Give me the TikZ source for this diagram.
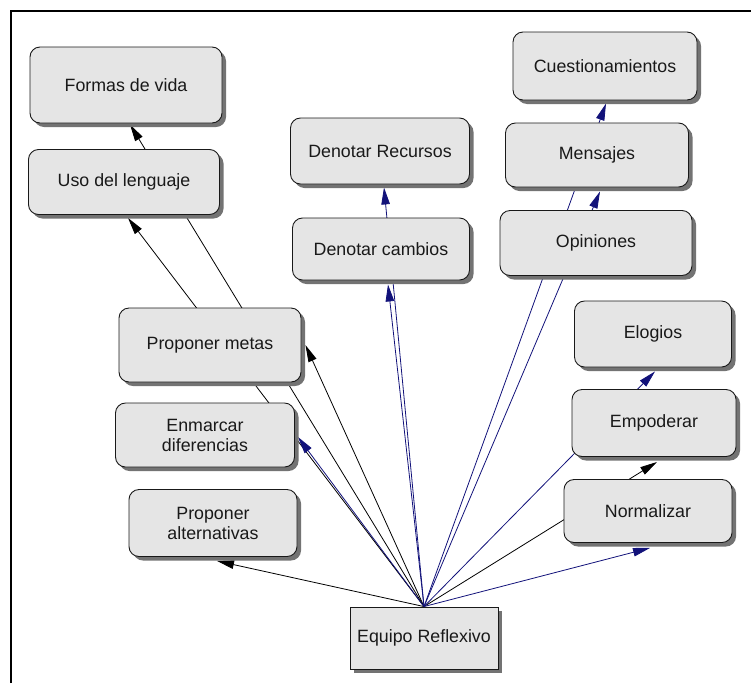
\documentclass[tikz,border=0pt]{standalone}
\usepackage{fontspec}
\setmainfont{Liberation Sans}
\usetikzlibrary{arrows.meta,shadows,backgrounds}
\definecolor{boxfill}{RGB}{229,229,229}
\definecolor{linkblue}{RGB}{18,18,122}

\begin{document}
\begin{tikzpicture}[x=1pt, y=-1pt,
		box/.style={draw=black!90, fill=boxfill, rounded corners=10pt, line width=0.9pt, text=black!90, align=center,
			font=\fontsize{17.8}{20}\selectfont,
			drop shadow={shadow xshift=4pt, shadow yshift=-4pt, fill=black!55, opacity=1}},
		link/.style={line width=0.8pt, -{Triangle[length=17pt,width=8.5pt]}},
		bluelink/.style={link, color=linkblue}]
			\useasboundingbox (0,0) rectangle (751,683);
			\draw[line width=2pt] (11,683) -- (11,11) -- (751,11);
			\node[box, minimum width=192pt, minimum height=76pt] (formas) at (126,85) {Formas de vida};
			\node[box, minimum width=191pt, minimum height=65pt] (uso) at (124,182) {Uso del lenguaje};
			\node[box, minimum width=179pt, minimum height=66pt] (recursos) at (380,151) {Denotar Recursos};
			\node[box, minimum width=177pt, minimum height=62pt] (cambios) at (381,249) {Denotar cambios};
			\node[box, minimum width=184pt, minimum height=68pt] (cuest) at (605,66) {Cuestionamientos};
			\node[box, minimum width=183pt, minimum height=64pt] (mensajes) at (597,155) {Mensajes};
			\node[box, minimum width=192pt, minimum height=65pt] (opiniones) at (596,243) {Opiniones};
			\node[box, minimum width=182pt, minimum height=74pt] (metas) at (210,345) {Proponer metas};
			\node[box, minimum width=179pt, minimum height=64pt] (enmarcar) at (205,435) {Enmarcar\\diferencias};
			\node[box, minimum width=168pt, minimum height=67pt] (alternativas) at (213,523) {Proponer\\alternativas};
			\node[box, minimum width=157pt, minimum height=66pt] (elogios) at (653,334) {Elogios};
			\node[box, minimum width=164pt, minimum height=67pt] (empoderar) at (654,423) {Empoderar};
			\node[box, minimum width=168pt, minimum height=63pt] (normalizar) at (648,511) {Normalizar};
			\node[box, sharp corners, minimum width=148pt, minimum height=62pt] (equipo) at (424,638) {Equipo Reflexivo};
			\begin{pgfonlayer}{background}
				\draw[link] (equipo.north) -- ([xshift=4pt,yshift=-1pt]formas.south);
				\draw[link] (equipo.north) -- ([xshift=4pt,yshift=-3pt]uso.south);
				\draw[link] (equipo.north) -- ([xshift=4pt]metas.east);
				\draw[link] (equipo.north) -- ([xshift=4pt,yshift=-4pt]alternativas.south);
				\draw[link] (equipo.north) -- ([xshift=3pt,yshift=-5pt]empoderar.south);
				\draw[bluelink] (equipo.north) -- ([xshift=3pt,yshift=-2pt]enmarcar.east);
				\draw[bluelink] (equipo.north) -- ([xshift=7pt,yshift=-4pt]cambios.south);
				\draw[bluelink] (equipo.north) -- ([xshift=4pt,yshift=-3pt]recursos.south);
				\draw[bluelink] (equipo.north) -- ([xshift=1pt,yshift=-3pt]cuest.south);
				\draw[bluelink] (equipo.north) -- ([xshift=3pt,yshift=-4pt]mensajes.south);
				\draw[bluelink] (equipo.north) -- ([xshift=2pt,yshift=-4pt]elogios.south);
				\draw[bluelink] (equipo.north) -- ([xshift=2pt,yshift=-5pt]normalizar.south);
			\end{pgfonlayer}
		\end{tikzpicture}
\end{document}
